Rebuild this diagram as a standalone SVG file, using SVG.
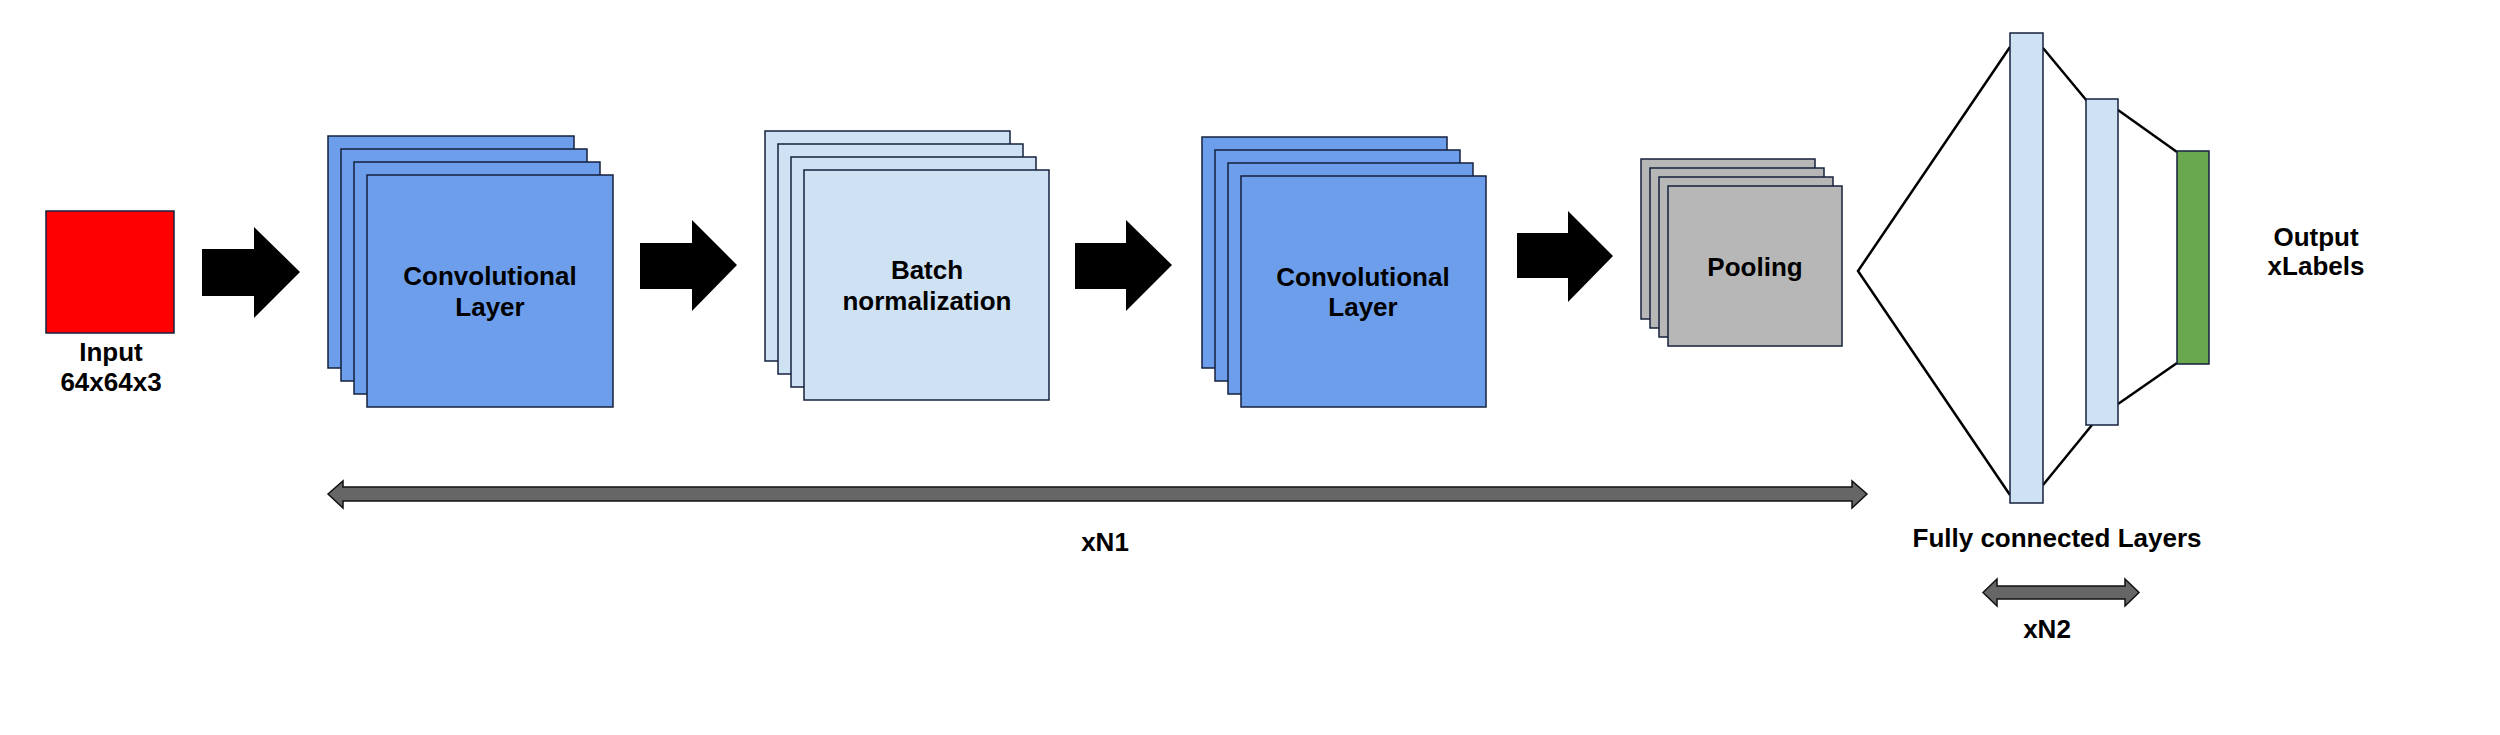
<svg xmlns="http://www.w3.org/2000/svg" width="2500" height="735" viewBox="0 0 2500 735">
<style>
.lbl{font-family:"Liberation Sans",Arial,sans-serif;font-weight:bold;font-size:26px;fill:#000;text-anchor:middle}
.box{stroke:#14213d;stroke-width:1.5}
.conv{fill:#6d9eeb}
.bn{fill:#cfe2f3}
.pool{fill:#b7b7b7}
.fc{fill:#cfe2f3;stroke:#14213d;stroke-width:1.5}
.flow{fill:#000}
.span{fill:#666;stroke:#111;stroke-width:1.5;stroke-linejoin:miter}
.wire{fill:none;stroke:#000;stroke-width:2.5}
</style>
<rect width="2500" height="735" fill="#fff"/>
<g id="input">
<rect x="46" y="211" width="128" height="122" fill="#ff0000" class="box"/>
<text class="lbl" x="111" y="361">Input</text>
<text class="lbl" x="111" y="391">64x64x3</text>
</g>
<g id="conv1">
<rect class="box conv" x="328" y="136" width="246" height="232"/>
<rect class="box conv" x="341" y="149" width="246" height="232"/>
<rect class="box conv" x="354" y="162" width="246" height="232"/>
<rect class="box conv" x="367" y="175" width="246" height="232"/>
<text class="lbl" x="490" y="285">Convolutional</text>
<text class="lbl" x="490" y="316">Layer</text>
</g>
<g id="batchnorm">
<rect class="box bn" x="765" y="131" width="245" height="230"/>
<rect class="box bn" x="778" y="144" width="245" height="230"/>
<rect class="box bn" x="791" y="157" width="245" height="230"/>
<rect class="box bn" x="804" y="170" width="245" height="230"/>
<text class="lbl" x="927" y="279">Batch</text>
<text class="lbl" x="927" y="310">normalization</text>
</g>
<g id="conv2">
<rect class="box conv" x="1202" y="137" width="245" height="231"/>
<rect class="box conv" x="1215" y="150" width="245" height="231"/>
<rect class="box conv" x="1228" y="163" width="245" height="231"/>
<rect class="box conv" x="1241" y="176" width="245" height="231"/>
<text class="lbl" x="1363" y="286">Convolutional</text>
<text class="lbl" x="1363" y="316">Layer</text>
</g>
<g id="pooling">
<rect class="box pool" x="1641" y="159" width="174" height="160"/>
<rect class="box pool" x="1650" y="168" width="174" height="160"/>
<rect class="box pool" x="1659" y="177" width="174" height="160"/>
<rect class="box pool" x="1668" y="186" width="174" height="160"/>
<text class="lbl" x="1755" y="276">Pooling</text>
</g>
<g id="connectors">
<polygon class="flow" points="202,249 254,249 254,227 300,272 254,318 254,296 202,296"/>
<polygon class="flow" points="640,243 692,243 692,220 737,265 692,311 692,289 640,289"/>
<polygon class="flow" points="1075,243 1126,243 1126,220 1172,265 1126,311 1126,289 1075,289"/>
<polygon class="flow" points="1517,233 1568,233 1568,211 1613,256 1568,302 1568,278 1517,278"/>
<polyline class="wire" points="2010,47 1858,271 2010,495"/>
<line class="wire" x1="2043" y1="48" x2="2087" y2="101"/>
<line class="wire" x1="2043" y1="485" x2="2092" y2="425"/>
<line class="wire" x1="2118" y1="110" x2="2177" y2="152"/>
<line class="wire" x1="2118" y1="404" x2="2177" y2="363"/>
<polygon class="span" points="328,494 343,481 343,487 1852,487 1852,481 1867,494 1852,508 1852,501 343,501 343,508"/>
<polygon class="span" points="1983,592.5 1997,579 1997,586 2125,586 2125,579 2139,592.5 2125,606 2125,599 1997,599 1997,606"/>
</g>
<g id="fc1"><rect class="fc" x="2010" y="33" width="33" height="470"/></g>
<g id="fc2"><rect class="fc" x="2086" y="99" width="32" height="326"/></g>
<g id="output">
<rect x="2177" y="151" width="32" height="213" fill="#6aa84f" class="box"/>
</g>
<g id="output-label">
<text class="lbl" x="2316" y="246">Output</text>
<text class="lbl" x="2316" y="275">xLabels</text>
</g>
<g id="fc-label"><text class="lbl" x="2057" y="547">Fully connected Layers</text></g>
<g id="xn1-label"><text class="lbl" x="1105" y="551">xN1</text></g>
<g id="xn2-label"><text class="lbl" x="2047" y="638">xN2</text></g>
</svg>
